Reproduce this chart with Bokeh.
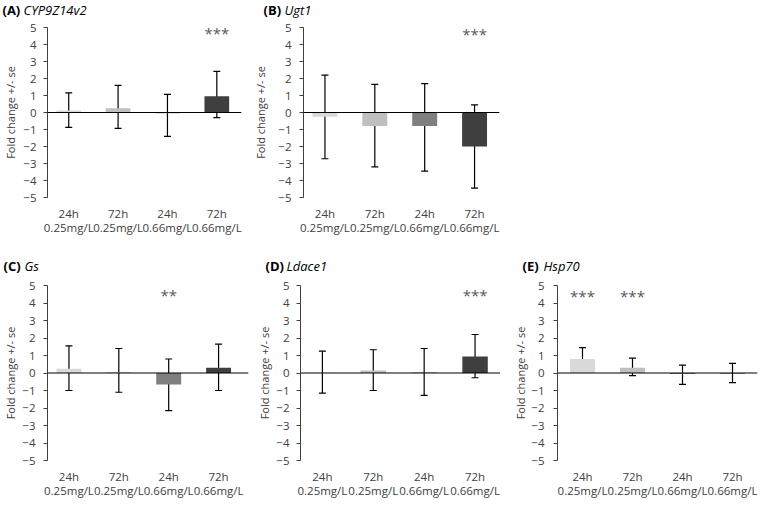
from bokeh.plotting import figure
from bokeh.models import (Range1d, FixedTicker, LinearAxis, Span, Whisker, TeeHead,
                          ColumnDataSource)
from bokeh.layouts import column, row
from bokeh.core.properties import value
from bokeh.embed import file_html
from bokeh.resources import INLINE

# ---------------- data ----------------
letters = ["(A)", "(B)", "(C)", "(D)", "(E)"]
genes = ["CYP9Z14v2", "Ugt1", "Gs", "Ldace1", "Hsp70"]
times = ["24h", "72h", "24h", "72h"]
doses = ["0.25mg/L", "0.25mg/L", "0.66mg/L", "0.66mg/L"]
groups = [1, 2, 3, 4]
y_ticks = [-5, -4, -3, -2, -1, 0, 1, 2, 3, 4, 5]

mean_A = [0.12, 0.25, -0.05, 0.95]
upper_A = [1.15, 1.6, 1.07, 2.42]
lower_A = [-0.88, -0.93, -1.4, -0.3]
stars_A = ["", "", "", "***"]

mean_B = [-0.25, -0.8, -0.8, -2.0]
upper_B = [2.2, 1.65, 1.7, 0.45]
lower_B = [-2.72, -3.2, -3.45, -4.45]
stars_B = ["", "", "", "***"]

mean_C = [0.25, 0.05, -0.65, 0.3]
upper_C = [1.55, 1.4, 0.8, 1.65]
lower_C = [-1.0, -1.1, -2.15, -1.0]
stars_C = ["", "", "**", ""]

mean_D = [0.02, 0.15, 0.03, 0.95]
upper_D = [1.25, 1.33, 1.4, 2.2]
lower_D = [-1.15, -1.0, -1.28, -0.27]
stars_D = ["", "", "", "***"]

mean_E = [0.8, 0.3, -0.05, -0.03]
upper_E = [1.45, 0.85, 0.45, 0.55]
lower_E = [0.15, -0.15, -0.65, -0.55]
stars_E = ["***", "***", "", ""]

star_level = [4.65, 4.6, 4.45, 4.45, 4.4]

# ---------------- styles / layout ----------------
FONT = "Open Sans"
bar_colors = ["#d9d9d9", "#bfbfbf", "#7f7f7f", "#3f3f3f"]
TXT = "#404040"

layouts = [
    dict(w=250, h=228, bl=40, br=9, bt=8, bb=47, x0=0.57, x1=4.5, mls=7, als=2),
    dict(w=250, h=228, bl=49, br=1, bt=9, bb=49, x0=0.57, x1=4.5, mls=8, als=7),
    dict(w=250, h=232, bl=40, br=2, bt=9, bb=46, x0=0.57, x1=4.6, mls=8, als=1),
    dict(w=250, h=232, bl=50, br=0, bt=11, bb=45, x0=0.57, x1=4.5, mls=7, als=1),
    dict(w=260, h=232, bl=57, br=3, bt=9, bb=43, x0=0.5, x1=4.5, mls=9, als=0),
]

data = [
    (mean_A, upper_A, lower_A, stars_A),
    (mean_B, upper_B, lower_B, stars_B),
    (mean_C, upper_C, lower_C, stars_C),
    (mean_D, upper_D, lower_D, stars_D),
    (mean_E, upper_E, lower_E, stars_E),
]


def make_panel(i):
    means, upper, lower, stars = data[i]
    lay = layouts[i]
    p = figure(width=lay["w"], height=lay["h"], output_backend="svg", toolbar_location=None,
               title=None, x_range=Range1d(lay["x0"], lay["x1"]), y_range=Range1d(-5, 5),
               min_border_left=lay["bl"], min_border_right=lay["br"],
               min_border_top=lay["bt"], min_border_bottom=lay["bb"])
    p.outline_line_color = None
    p.grid.visible = False
    p.background_fill_color = "white"
    p.border_fill_color = "white"

    src = ColumnDataSource(dict(x=groups, mean=means, upper=upper, lower=lower,
                                color=bar_colors, stars=stars,
                                sy=[star_level[i]] * len(groups)))

    p.vbar(x="x", top="mean", bottom=0, width=0.5, source=src,
           fill_color="color", line_color=None)
    p.add_layout(Span(location=0, dimension="width", line_color="black", line_width=1.2))
    p.add_layout(Whisker(base="x", upper="upper", lower="lower", source=src,
                         line_color="black", line_width=1.2,
                         upper_head=TeeHead(size=7, line_color="black", line_width=1.2),
                         lower_head=TeeHead(size=7, line_color="black", line_width=1.2)))
    p.text(x="x", y="sy", text="stars", source=src, text_font=value(FONT),
           text_font_size="15px", text_align="center", text_baseline="middle",
           text_color="#595959")

    # y axis
    ya = p.yaxis[0]
    ya.ticker = FixedTicker(ticks=y_ticks)
    ya.minor_tick_line_color = None
    ya.major_tick_in = 0
    ya.major_tick_out = 4
    ya.axis_line_color = TXT
    ya.major_tick_line_color = TXT
    ya.major_label_text_font = FONT
    ya.major_label_text_font_size = "11.5px"
    ya.major_label_text_color = TXT
    ya.major_label_standoff = lay["mls"]
    ya.axis_label = "Fold change +/- se"
    ya.axis_label_text_font = FONT
    ya.axis_label_text_font_size = "11px"
    ya.axis_label_text_font_style = "normal"
    ya.axis_label_text_color = TXT
    ya.axis_label_standoff = lay["als"]

    # x axes: two stacked label rows
    xa = p.xaxis[0]
    xa2 = LinearAxis()
    p.add_layout(xa2, "below")
    for ax, labels, so in ((xa, times, 8), (xa2, doses, -4)):
        ax.ticker = FixedTicker(ticks=groups)
        ax.major_label_overrides = {g: t for g, t in zip(groups, labels)}
        ax.axis_line_color = None
        ax.major_tick_line_color = None
        ax.minor_tick_line_color = None
        ax.major_tick_in = 0
        ax.major_tick_out = 0
        ax.major_label_standoff = so
        ax.major_label_text_font = FONT
        ax.major_label_text_font_size = "11.5px"
        ax.major_label_text_color = TXT
    return p


def title_strip(height, idx, xs, ys):
    s = figure(width=760, height=height, output_backend="svg", toolbar_location=None,
               title=None, x_range=Range1d(0, 760), y_range=Range1d(0, height),
               x_axis_type=None, y_axis_type=None, min_border=0)
    s.outline_line_color = None
    s.grid.visible = False
    s.text(x=xs, y=ys, text=[letters[k] for k in idx], text_font=value(FONT),
           text_font_size="13px", text_font_style="bold", text_baseline="middle",
           text_align="left", text_color="black")
    s.text(x=[x + 21 for x in xs], y=ys, text=[genes[k] for k in idx],
           text_font=value(FONT), text_font_size="13px", text_font_style="italic",
           text_baseline="middle", text_align="left", text_color="black")
    return s


panels = [make_panel(i) for i in range(5)]
top_titles = title_strip(18, [0, 1], [2, 263], [9, 9])
bottom_titles = title_strip(28, [2, 3, 4], [3, 265, 522], [9, 9, 9])

layout = column(top_titles, row(panels[0], panels[1]),
                bottom_titles, row(panels[2], panels[3], panels[4]))

open("out.html", "w").write(file_html(layout, INLINE))
